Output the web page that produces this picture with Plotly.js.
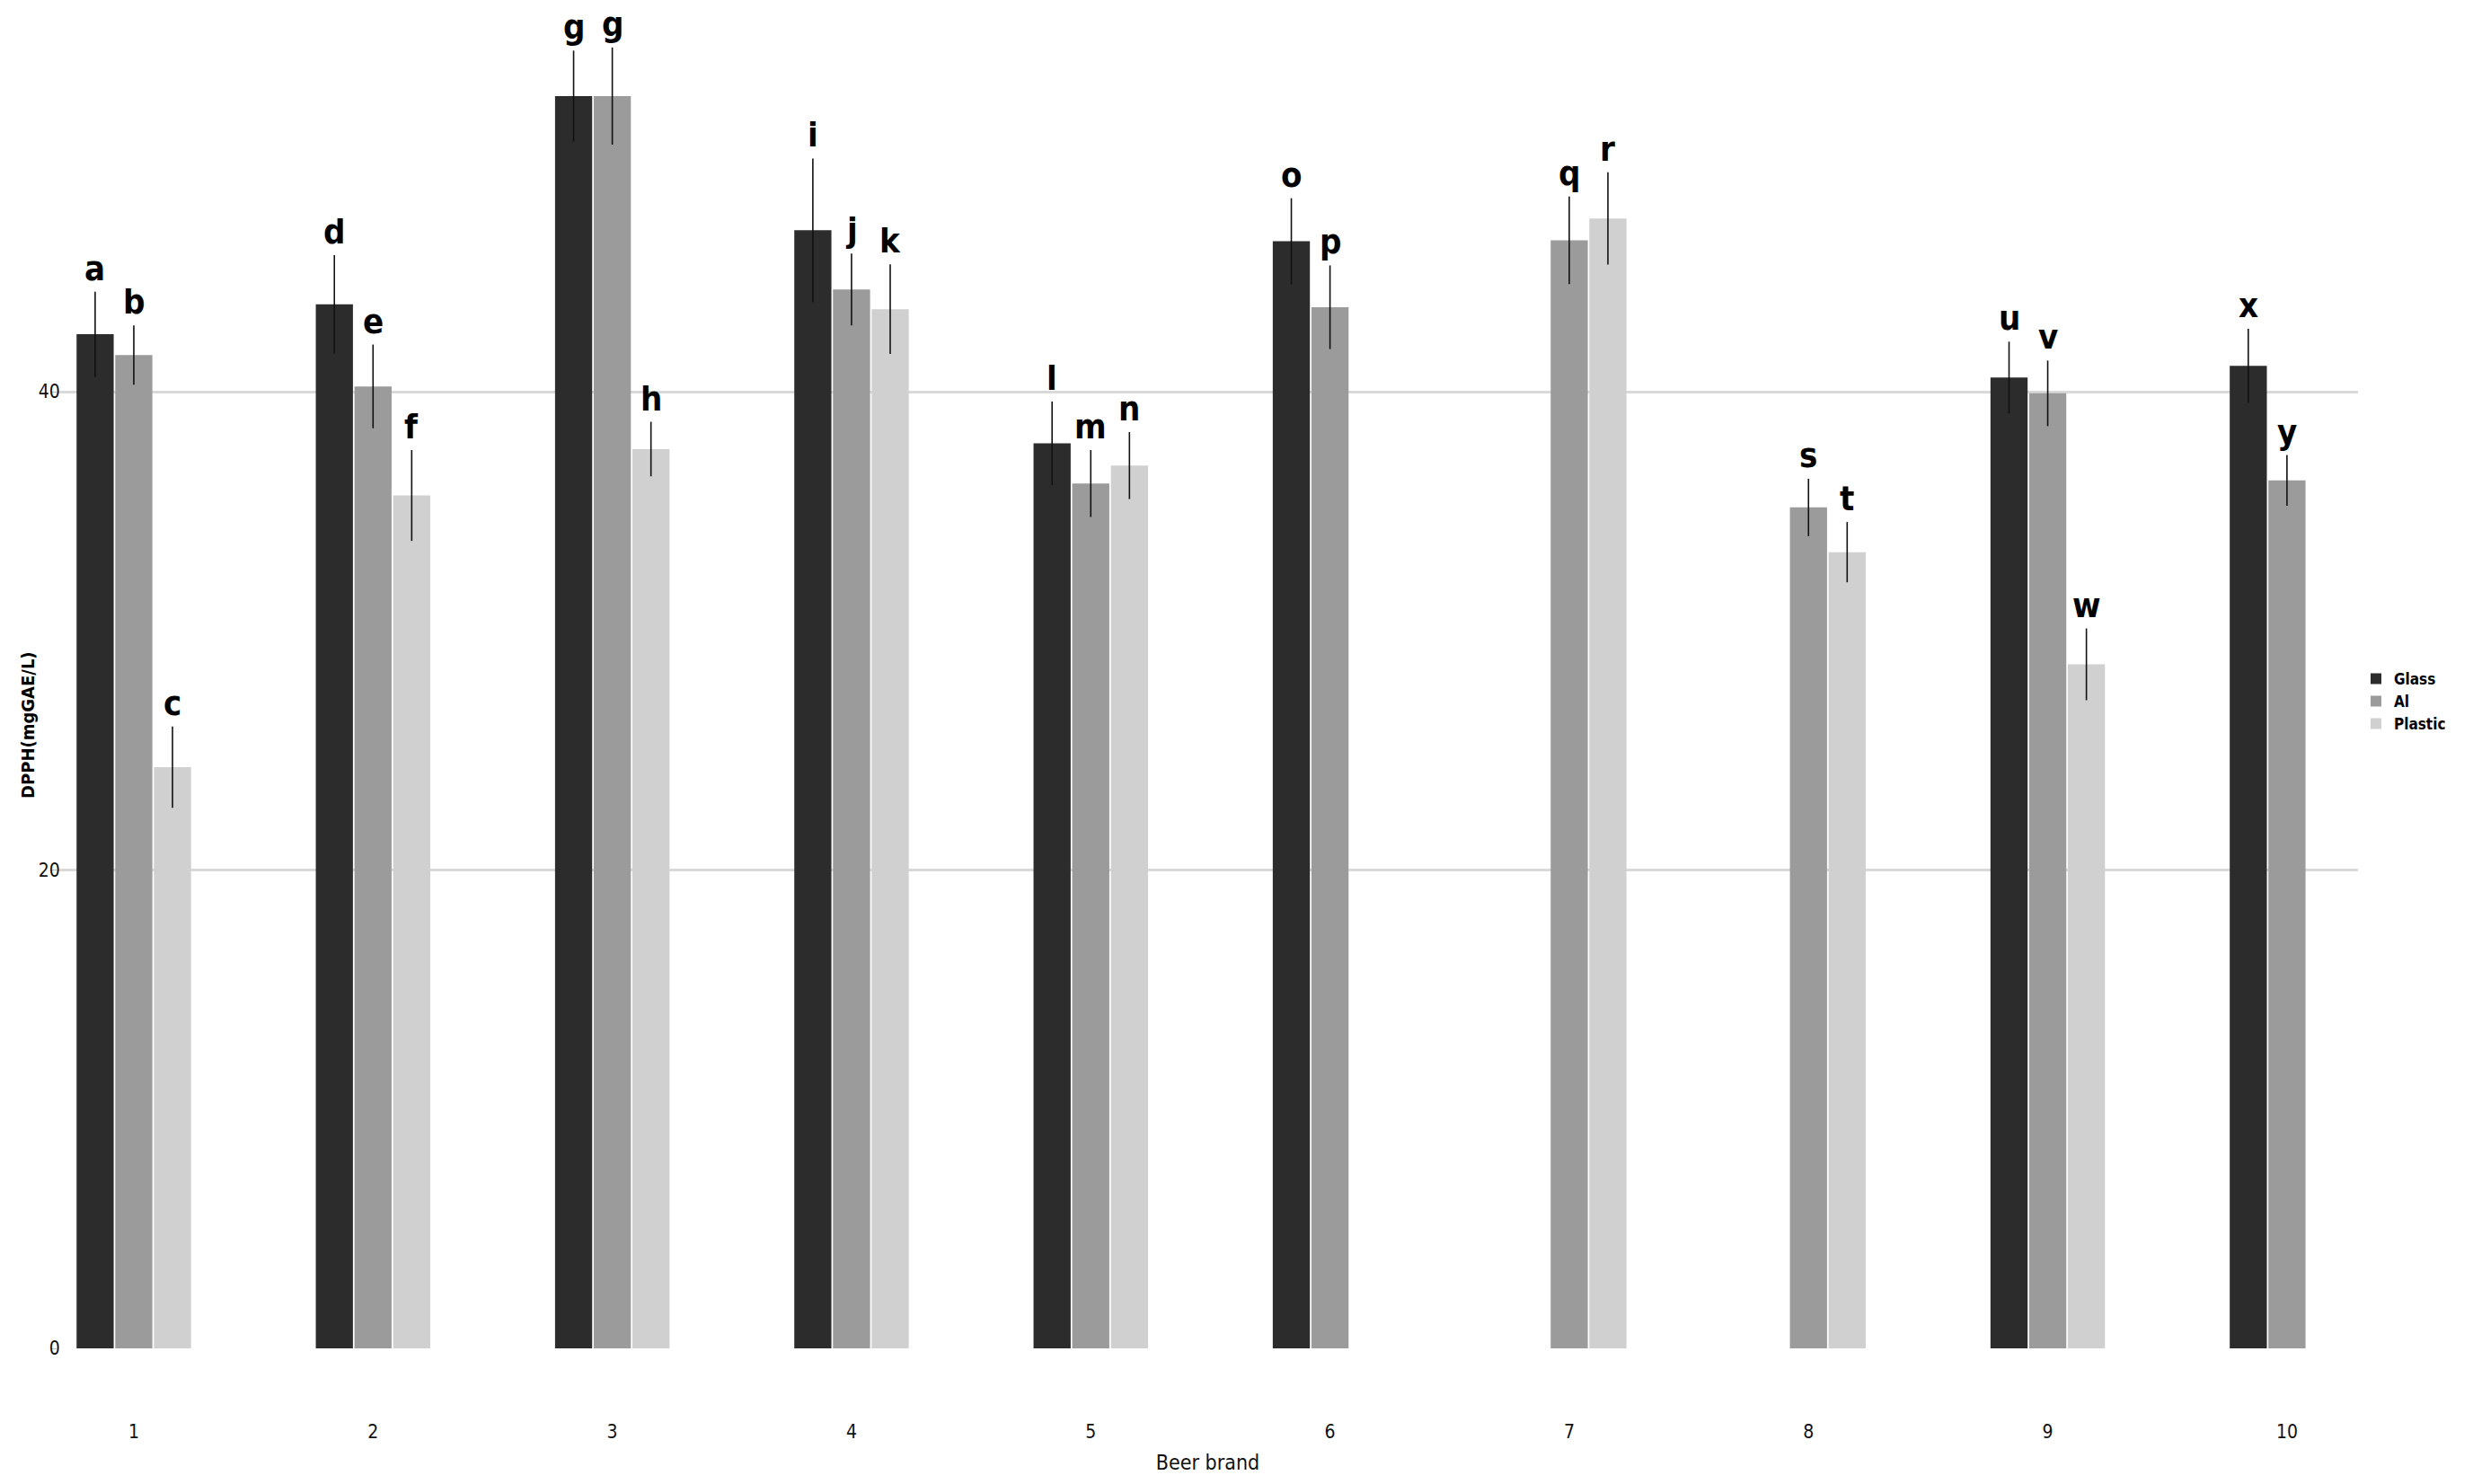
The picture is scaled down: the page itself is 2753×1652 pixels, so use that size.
<!DOCTYPE html>
<html>
<head>
<meta charset="utf-8">
<script src="https://cdn.plot.ly/plotly-3.0.1.min.js"></script>
<style>html,body{margin:0;padding:0;background:#fff;}#chart{width:2753px;height:1652px;}</style>
</head>
<body>
<div id="chart"></div>
<script>
// ---- data ----
const brands = [1, 2, 3, 4, 5, 6, 7, 8, 9, 10];
const brandLabels = ["1", "2", "3", "4", "5", "6", "7", "8", "9", "10"];
const seriesNames = ["Glass", "Al", "Plastic"];

const glass      = [42.4, 43.65, 52.36, 46.75, 37.84, 46.29, null, null, 40.59, 41.08];
const glassErr   = [1.78, 2.06, 1.9, 3.0, 1.75, 1.8, null, null, 1.5, 1.55];
const glassLetters = ["a", "d", "g", "i", "l", "o", "", "", "u", "x"];

const al         = [41.53, 40.22, 52.36, 44.27, 36.16, 43.53, 46.33, 35.16, 39.93, 36.29];
const alErr      = [1.24, 1.75, 2.03, 1.5, 1.4, 1.75, 1.83, 1.2, 1.37, 1.06];
const alLetters  = ["b", "e", "g", "j", "m", "p", "q", "s", "v", "y"];

const plastic    = [24.3, 35.66, 37.6, 43.45, 36.91, null, 47.24, 33.29, 28.6, null];
const plasticErr = [1.7, 1.9, 1.14, 1.87, 1.4, null, 1.93, 1.26, 1.5, null];
const plasticLetters = ["c", "f", "h", "k", "n", "", "r", "t", "w", ""];

const yTitle = "DPPH(mgGAE/L)";
const xTitle = "Beer brand";

// ---- styling ----
const colors = ["#2c2c2c", "#9b9b9b", "#d0d0d0"];
const narrow = "Liberation Sans Narrow, Arial Narrow, DejaVu Sans Condensed, Liberation Sans, sans-serif";
const bargap = 0.515;
const slot = (1 - bargap) / 3;

const values = [glass, al, plastic];
const errs = [glassErr, alErr, plasticErr];
const letters = [glassLetters, alLetters, plasticLetters];

const traces = values.map((v, i) => ({
  type: "bar",
  name: seriesNames[i],
  x: brands,
  y: v,
  marker: {color: colors[i], line: {width: 0}},
  error_y: {type: "data", array: errs[i], visible: true, color: "#111", thickness: 1.6, width: 0},
  hoverinfo: "x+y+name"
}));

const annotations = [];
values.forEach((v, i) => {
  brands.forEach((b, k) => {
    if (v[k] === null || !letters[i][k]) return;
    annotations.push({
      x: b + (i - 1) * slot,
      y: v[k] + errs[i][k],
      xref: "x", yref: "y",
      text: letters[i][k],
      showarrow: false,
      yanchor: "bottom",
      yshift: 2,
      font: {family: narrow, size: 38, color: "#000", weight: "bold"}
    });
  });
});

annotations.push({
  x: -0.0132, y: 0.465, xref: "paper", yref: "paper",
  text: yTitle, textangle: -90, showarrow: false,
  xanchor: "center", yanchor: "middle",
  font: {family: narrow, size: 20, color: "#000", weight: "bold"}
});

const layout = {
  width: 2753,
  height: 1652,
  paper_bgcolor: "#fff",
  plot_bgcolor: "#fff",
  margin: {l: 64, r: 128, t: 10, b: 151, pad: 0, autoexpand: false},
  barmode: "group",
  bargap: bargap,
  bargroupgap: 0.04,
  showlegend: true,
  legend: {
    x: 1.0, xanchor: "left", y: 0.483, yanchor: "middle",
    font: {family: narrow, size: 17, color: "#000", weight: "bold"},
    bgcolor: "rgba(0,0,0,0)", itemwidth: 30, tracegroupgap: 0
  },
  xaxis: {
    range: [0.681, 10.297],
    tickvals: brands,
    ticktext: brandLabels,
    showgrid: false, zeroline: false, showline: false,
    ticks: "", ticklabelstandoff: 78,
    tickfont: {family: narrow, size: 21, color: "#111"},
    title: {text: xTitle, font: {family: narrow, size: 23, color: "#111"}, standoff: 14},
    automargin: false
  },
  yaxis: {
    range: [0, 56],
    tickvals: [0, 20, 40],
    ticktext: ["0", "20", "40"],
    showgrid: true, gridcolor: "#d9d9d9", gridwidth: 3,
    zeroline: false, showline: false,
    ticks: "outside", ticklen: 5, tickcolor: "#bbbbbb", tickwidth: 1,
    ticklabelstandoff: -13,
    tickfont: {family: narrow, size: 21, color: "#111"},
    automargin: false
  },
  annotations: annotations
};

Plotly.newPlot("chart", traces, layout, {displayModeBar: false, responsive: false});
</script>
</body>
</html>
